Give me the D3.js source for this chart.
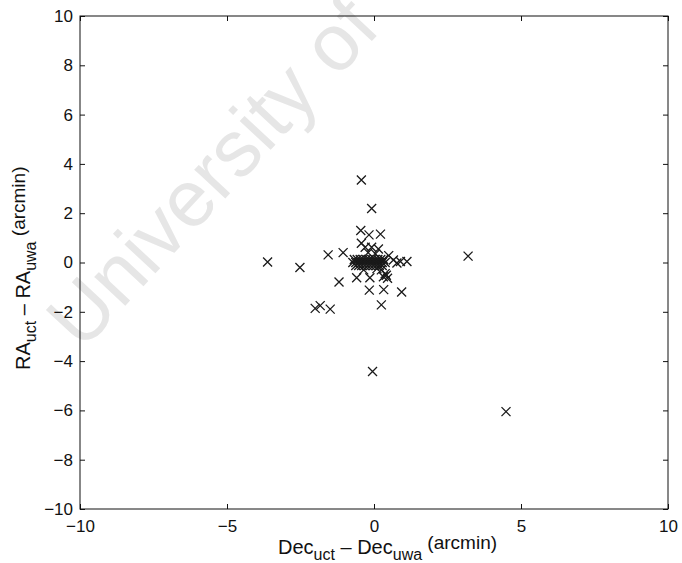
<!DOCTYPE html>
<html>
<head>
<meta charset="utf-8">
<script src="https://cdn.jsdelivr.net/npm/d3@7"></script>
<style>
  html, body { margin: 0; padding: 0; background: #fff; }
  svg { display: block; }
  text { font-family: "Liberation Sans", Arial, Helvetica, sans-serif; fill: #111; }
</style>
</head>
<body>
<svg id="chart" width="682" height="563"></svg>
<script>
// Position differences between the two catalogues (arcmin)
const decOffset = [
  -3.62, -2.52, -1.56, -1.05, -1.19, -2.00, -1.83, -1.49,
  -0.43, -0.08, -0.45, -0.17, 0.22, -0.43, -0.30, -0.08, 0.15, -0.20, 0.05,
  0.50, 0.66, 0.78, 0.90, 1.12, 0.42, 0.46, 0.32, 0.38,
  -0.59, -0.14, -0.16, 0.33, 0.25, 0.94, -0.05, 3.20, 4.49,
  0.25, -0.35, 0.10,
  -0.72, -0.62, -0.52, -0.42, -0.32, -0.22, -0.12, -0.02, 0.08, 0.18, 0.28, 0.38,
  -0.67, -0.57, -0.47, -0.37, -0.27, -0.17, -0.07, 0.03, 0.13, 0.23, 0.33,
  -0.62, -0.52, -0.42, -0.32, -0.22, -0.12, -0.02, 0.08, 0.18, 0.28
];
const raOffset = [
  0.02, -0.20, 0.31, 0.40, -0.79, -1.86, -1.75, -1.89,
  3.35, 2.19, 1.30, 1.12, 1.15, 0.78, 0.62, 0.62, 0.55, 0.40, 0.35,
  0.28, 0.10, -0.02, 0.04, 0.04, -0.52, -0.64, -0.58, -0.45,
  -0.62, -0.62, -1.12, -1.10, -1.72, -1.20, -4.42, 0.26, -6.05,
  -0.30, -0.30, -0.25,
  0.00, 0.00, 0.00, 0.00, 0.00, 0.00, 0.00, 0.00, 0.00, 0.00, 0.00, 0.00,
  0.12, 0.12, 0.12, 0.12, 0.12, 0.12, 0.12, 0.12, 0.12, 0.12, 0.12,
  -0.12, -0.12, -0.12, -0.12, -0.12, -0.12, -0.12, -0.12, -0.12, -0.12
];
const xTicks = [-10, -5, 0, 5, 10];
const yTicks = [-10, -8, -6, -4, -2, 0, 2, 4, 6, 8, 10];
const xDomain = [-10, 10];
const yDomain = [-10, 10];

const svg = d3.select("#chart");
const margin = { left: 80, top: 16, right: 14, bottom: 54 };
const W = 682, H = 563;
const iw = W - margin.left - margin.right;
const ih = H - margin.top - margin.bottom;

// faint background stamp
svg.append("text")
  .attr("transform", "translate(82,352) rotate(-47)")
  .attr("font-size", 80)
  .style("fill", "#e6e6e6")
  .text("University of");

const g = svg.append("g").attr("transform", `translate(${margin.left},${margin.top})`);

const x = d3.scaleLinear().domain(xDomain).range([0, iw]);
const y = d3.scaleLinear().domain(yDomain).range([ih, 0]);

const fmt = d => d < 0 ? "\u2212" + Math.abs(d) : d;

// inward ticks on all four sides
const axB = g.append("g").attr("transform", `translate(0,${ih})`)
  .call(d3.axisBottom(x).tickValues(xTicks).tickSize(-5).tickPadding(11).tickFormat(fmt));
const axL = g.append("g")
  .call(d3.axisLeft(y).tickValues(yTicks).tickSize(-5).tickPadding(7).tickFormat(fmt));
const axT = g.append("g")
  .call(d3.axisTop(x).tickValues(xTicks).tickSize(-5).tickFormat(""));
const axR = g.append("g").attr("transform", `translate(${iw},0)`)
  .call(d3.axisRight(y).tickValues(yTicks).tickSize(-5).tickFormat(""));

[axB, axL, axT, axR].forEach(a => {
  a.select(".domain").remove();
  a.selectAll(".tick line").attr("stroke", "#111").attr("stroke-width", 1);
  a.selectAll(".tick text").attr("font-size", 17)
    .attr("font-family", "'Liberation Sans', Arial, sans-serif").attr("fill", "#111");
});

g.append("rect")
  .attr("width", iw).attr("height", ih)
  .attr("fill", "none").attr("stroke", "#111").attr("stroke-width", 1);

// cross markers
const pts = decOffset.map((d, i) => ({ dec: d, ra: raOffset[i] }));
const s = 4.5;
g.append("g").selectAll("path").data(pts).join("path")
  .attr("transform", d => `translate(${x(d.dec)},${y(d.ra)})`)
  .attr("d", `M${-s},${-s}L${s},${s}M${-s},${s}L${s},${-s}`)
  .attr("stroke", "#1a1a1a").attr("stroke-width", 1.3).attr("fill", "none");

// axis titles with subscripts
function title(sel, main, sub1, sep, sub2) {
  sel.append("tspan").text(main);
  sel.append("tspan").attr("dy", 6).attr("font-size", 16).text(sub1);
  sel.append("tspan").attr("dy", -6).text(sep);
  sel.append("tspan").attr("dy", 6).attr("font-size", 16).text(sub2);
  sel.append("tspan").attr("dy", -11).attr("font-size", 19).text(" (arcmin)");
}

const xl = svg.append("text").attr("x", 278).attr("y", 554).attr("font-size", 20);
title(xl, "Dec", "uct", " \u2013 Dec", "uwa");

const yl = svg.append("text").attr("transform", "translate(30,370) rotate(-90)").attr("font-size", 20);
title(yl, "RA", "uct", " \u2013 RA", "uwa");
</script>
</body>
</html>
